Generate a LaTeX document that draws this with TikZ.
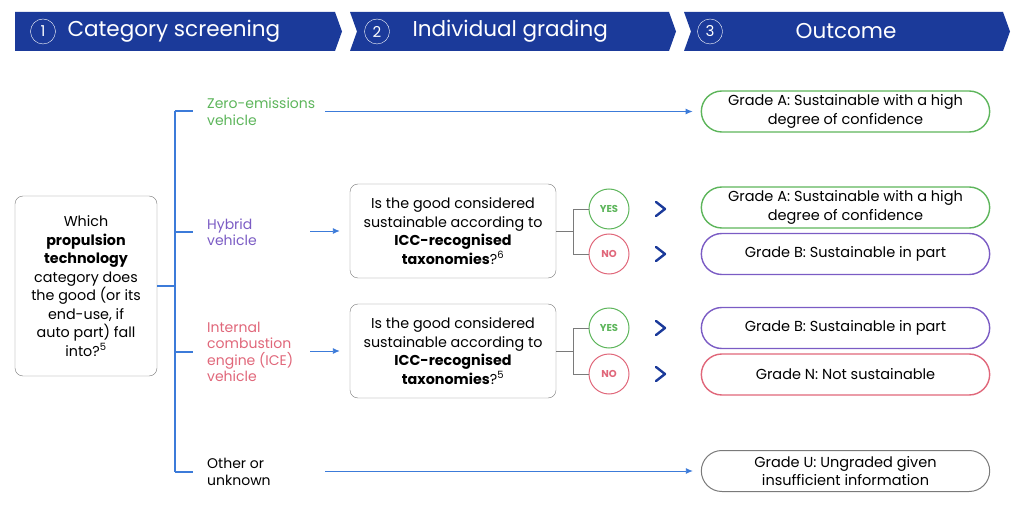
\documentclass[tikz,border=0pt]{standalone}
\usepackage{fontspec}
\setmainfont{Poppins}
\usetikzlibrary{arrows.meta,shapes.misc}

\definecolor{bannerblue}{HTML}{1B3A9A}
\definecolor{linkblue}{HTML}{3C7BD9}
\definecolor{zerogreen}{HTML}{5DB55B}
\definecolor{hybpurple}{HTML}{7B5CC4}
\definecolor{icered}{HTML}{E0677A}
\definecolor{boxgray}{HTML}{7A7A7A}

\begin{document}
\begin{tikzpicture}[x=1pt, y=-1pt,
    banner/.style={fill=bannerblue},
    numcirc/.style={circle, draw=white, thin, text=white, minimum size=25pt, inner sep=0pt, font=\fontsize{15}{15}\selectfont},
    headtext/.style={text=white, font=\fontsize{21.5}{21.5}\selectfont},
    qbox/.style={draw=boxgray, rounded corners=8pt, minimum width=206pt, minimum height=94pt, align=center, font=\fontsize{14.3}{18.5}\selectfont},
    catlabel/.style={anchor=west, align=left, inner sep=0pt, font=\fontsize{14}{16.5}\selectfont},
    grade/.style={rounded rectangle, draw, line width=1.4pt, minimum width=295pt, minimum height=41pt, align=center, font=\fontsize{14.5}{18.5}\selectfont},
    answer/.style={circle, draw, line width=1pt, minimum size=40pt, inner sep=0pt, font=\bfseries\fontsize{10}{10}\selectfont},
    link/.style={linkblue, line width=0.9pt, -{Latex[length=7pt,width=6pt]}},
    chev/.style={bannerblue, line width=2.4pt, line cap=round, line join=round}]
    \useasboundingbox (0,0) rectangle (1024,510);

    % header
    \fill[banner] (15,12) -- (335,12) -- (342,31.5) -- (335,51) -- (15,51) -- cycle;
    \fill[banner] (350,12) -- (669,12) -- (676,31.5) -- (669,51) -- (350,51) -- (357,31.5) -- cycle;
    \fill[banner] (684,12) -- (1003,12) -- (1010,31.5) -- (1003,51) -- (684,51) -- (691,31.5) -- cycle;
    \node[numcirc] (n1) at (43,31.5) {1};
    \node[numcirc] (n2) at (377,31.5) {2};
    \node[numcirc] (n3) at (710,31.5) {3};
    \node[headtext, anchor=west] (h1) at (64,31.5) {Category screening};
    \node[headtext, anchor=west] (h2) at (409,31.5) {Individual grading};
    \node[headtext] (h3) at (846,31.5) {Outcome};

    % step 1
    \node[draw=boxgray, rounded corners=8pt, minimum width=142pt, minimum height=180pt, align=center, font=\fontsize{14.3}{18.5}\selectfont] (which) at (86,286)
        {Which\\\textbf{propulsion}\\\textbf{technology}\\category does\\the good (or its\\end-use, if\\auto part) fall\\into?\textsuperscript{5}};
    \coordinate (trunk) at (175,286);
    \coordinate (ztop) at (175,111);
    \coordinate (obot) at (175,472);
    \draw[linkblue, line width=1.4pt] (which.east) -- (trunk);
    \draw[linkblue, line width=1.4pt] (ztop) -- (obot);
    \foreach \y in {111,232,352,472}
        \draw[linkblue, line width=1.4pt] (175,\y) -- (193,\y);

    \node[catlabel, text=zerogreen] (zero) at (207,111.5) {Zero-emissions\\vehicle};
    \node[catlabel, text=hybpurple] (hybrid) at (207,232) {Hybrid\\vehicle};
    \node[catlabel, text=icered] (ice) at (207,352) {Internal\\combustion\\engine (ICE)\\vehicle};
    \node[catlabel] (other) at (207,472) {Other or\\unknown};

    % step 2
    \node[qbox] (q1) at (453,231) {Is the good considered\\sustainable according to\\\textbf{ICC-recognised}\\\textbf{taxonomies}?\textsuperscript{6}};
    \node[qbox] (q2) at (453,351) {Is the good considered\\sustainable according to\\\textbf{ICC-recognised}\\\textbf{taxonomies}?\textsuperscript{5}};

    \node[answer, draw=zerogreen, text=zerogreen] (yes1) at (609,209) {YES};
    \node[answer, draw=icered, text=icered] (no1) at (609,254) {NO};
    \node[answer, draw=zerogreen, text=zerogreen] (yes2) at (609,328) {YES};
    \node[answer, draw=icered, text=icered] (no2) at (609,374) {NO};

    \draw[boxgray, thin] (q1.east) -- ++(17,0) |- (yes1.west);
    \draw[boxgray, thin] (q1.east) -- ++(17,0) |- (no1.west);
    \draw[boxgray, thin] (q2.east) -- ++(17,0) |- (yes2.west);
    \draw[boxgray, thin] (q2.east) -- ++(17,0) |- (no2.west);

    \coordinate (hstart) at (310,231);
    \coordinate (istart) at (310,351);
    \draw[link, shorten >=10pt] (hstart) -- (q1.west);
    \draw[link, shorten >=10pt] (istart) -- (q2.west);

    % chevrons
    \foreach \y in {209,254,328,374}
        \draw[chev] (656,\y-7) -- (665,\y) -- (656,\y+7);

    % step 3
    \node[grade, draw=zerogreen] (gA1) at (845.5,111.5) {Grade A: Sustainable with a high\\degree of confidence};
    \node[grade, draw=zerogreen] (gA2) at (845.5,207.5) {Grade A: Sustainable with a high\\degree of confidence};
    \node[grade, draw=hybpurple] (gB1) at (845.5,254) {Grade B: Sustainable in part};
    \node[grade, draw=hybpurple] (gB2) at (845.5,328) {Grade B: Sustainable in part};
    \node[grade, draw=icered] (gN) at (845.5,374.5) {Grade N: Not sustainable};
    \node[grade, draw=boxgray, line width=1pt] (gU) at (845.5,471) {Grade U: Ungraded given\\insufficient information};

    \coordinate (zstart) at (325,111.5);
    \coordinate (ostart) at (325,471);
    \draw[link, shorten >=8pt] (zstart) -- (gA1.west);
    \draw[link, shorten >=8pt] (ostart) -- (gU.west);
\end{tikzpicture}
\end{document}
